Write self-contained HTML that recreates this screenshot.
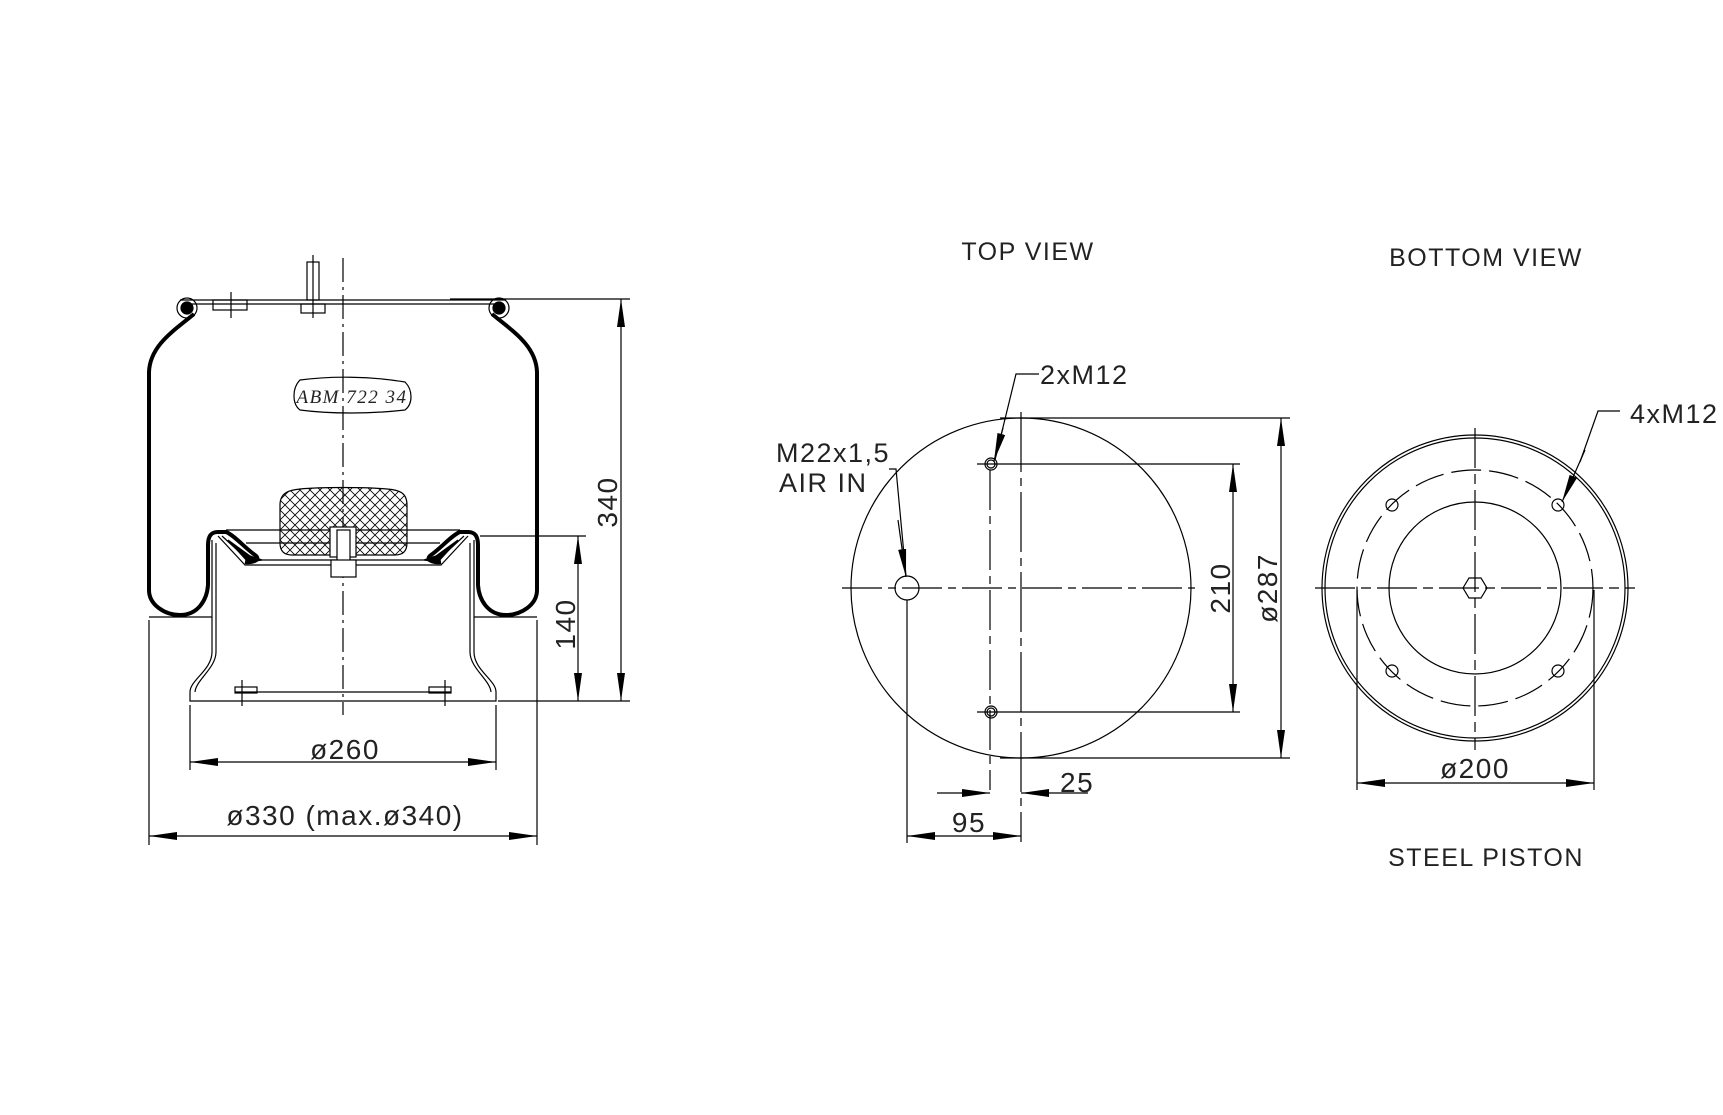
<!DOCTYPE html>
<html><head><meta charset="utf-8"><style>
html,body{margin:0;padding:0;background:#fff;}
svg{display:block;}
text{font-family:"Liberation Sans",sans-serif;fill:#222;letter-spacing:1.5px;}
</style></head><body>
<svg width="1723" height="1115" viewBox="0 0 1723 1115" xmlns="http://www.w3.org/2000/svg">
<defs>
<pattern id="xh" width="10" height="10" patternUnits="userSpaceOnUse">
<path d="M0 0L10 10M10 0L0 10" stroke="#000" stroke-width="0.8"/>
</pattern>
<marker id="ar" markerWidth="28" markerHeight="10" refX="28" refY="5" orient="auto-start-reverse" markerUnits="userSpaceOnUse">
<path d="M0 1L28 5L0 9Z" fill="#000"/>
</marker>
</defs>
<g fill="none" stroke="#000" stroke-width="1.2">
<line x1="343" y1="258" x2="343" y2="715" stroke-dasharray="24 5 3 5"/>
<path d="M180 300 L506 300 M182 304 L504 304"/>
<rect x="213" y="300" width="34" height="10"/>
<line x1="231" y1="292" x2="231" y2="318"/>
<rect x="307" y="262" width="12" height="38"/>
<rect x="301" y="304" width="24" height="9"/>
<line x1="313" y1="255" x2="313" y2="318"/>
<circle cx="187" cy="308" r="10"/>
<circle cx="187" cy="308" r="6" fill="#000"/>
<circle cx="499" cy="308" r="10"/>
<circle cx="499" cy="308" r="6" fill="#000"/>
<path stroke-width="4" d="M194 314 C175 330 150 345 149 372 L149 590 C149 605 165 615 180 615 C198 615 207 600 208 585 L208 545 C208 535 212 532 218 532 L226 532 C234 535 245 548 255 555 C262 560 252 563 245 562"/>
<path stroke-width="4" d="M492 314 C511 330 536 345 537 372 L537 590 C537 605 521 615 506 615 C488 615 479 600 478 585 L478 545 C478 535 474 532 468 532 L460 532 C452 535 441 548 431 555 C424 560 434 563 441 562"/>
<path d="M228 540 L250 556 L262 560 L248 562 Z M458 540 L436 556 L424 560 L438 562 Z" fill="#000"/>
<path d="M212 540 L212 652 C212 670 190 680 190 692 L190 701 L496 701 L496 692 C496 680 474 670 474 652 L474 540"/>
<path d="M216 543 L216 652 C216 668 196 680 195 692 M470 543 L470 652 C470 668 490 680 491 692"/>
<path d="M218 536 L245 565 L441 565 L468 536 M222 536 L248 560 L438 560 L464 536"/>
<line x1="226" y1="530" x2="460" y2="530"/>
<line x1="246" y1="543" x2="440" y2="543"/>
<line x1="149" y1="617" x2="212" y2="617"/>
<line x1="474" y1="617" x2="537" y2="617"/>
<line x1="235" y1="692" x2="451" y2="692"/>
<rect x="235" y="687" width="22" height="6"/>
<rect x="429" y="687" width="22" height="6"/>
<line x1="242" y1="680" x2="242" y2="706"/>
<line x1="445" y1="680" x2="445" y2="706"/>
<path fill="url(#xh)" d="M280 505 C280 492 290 490 300 489 C320 487 365 487 387 489 C400 490 407 493 407 505 L407 543 C407 552 402 555 395 555 L292 555 C285 555 280 552 280 543 Z"/>
<rect x="330" y="527" width="26" height="30" fill="#fff"/>
<rect x="337" y="530" width="13" height="45" fill="#fff"/>
<rect x="331" y="560" width="25" height="17" fill="#fff"/>
<path d="M300 380 C330 376 370 376 405 382 C413 390 413 404 405 410 C370 414 330 414 300 410 C292 404 292 388 300 380 Z"/>
<path d="M450 299 L630 299 M498 701 L630 701 M480 536 L586 536"/>
<line x1="621" y1="299" x2="621" y2="701" marker-start="url(#ar)" marker-end="url(#ar)"/>
<line x1="578" y1="536" x2="578" y2="701" marker-start="url(#ar)" marker-end="url(#ar)"/>
<path d="M190 705 L190 770 M496 705 L496 770 M149 620 L149 845 M537 620 L537 845"/>
<line x1="190" y1="762" x2="496" y2="762" marker-start="url(#ar)" marker-end="url(#ar)"/>
<line x1="149" y1="836" x2="537" y2="836" marker-start="url(#ar)" marker-end="url(#ar)"/>

<circle cx="1021" cy="588" r="170"/>
<line x1="842" y1="588" x2="1195" y2="588" stroke-dasharray="40 6 8 6"/>
<line x1="1021" y1="412" x2="1021" y2="842" stroke-dasharray="60 6 8 6"/>
<line x1="990" y1="470" x2="990" y2="790" stroke-dasharray="40 6 8 6"/>
<circle cx="907" cy="588" r="12"/>
<circle cx="991" cy="464" r="6"/><circle cx="991" cy="464" r="4"/>
<circle cx="991" cy="712" r="6"/><circle cx="991" cy="712" r="4"/>
<path d="M977 464 L1240 464 M977 712 L1240 712 M1000 418 L1290 418 M1000 758 L1290 758"/>
<line x1="1233" y1="464" x2="1233" y2="712" marker-start="url(#ar)" marker-end="url(#ar)"/>
<line x1="1281" y1="418" x2="1281" y2="758" marker-start="url(#ar)" marker-end="url(#ar)"/>
<line x1="907" y1="600" x2="907" y2="843"/>
<line x1="937" y1="793" x2="990" y2="793" marker-end="url(#ar)"/>
<line x1="1088" y1="793" x2="1021" y2="793" marker-end="url(#ar)"/>
<line x1="907" y1="836" x2="1021" y2="836" marker-start="url(#ar)" marker-end="url(#ar)"/>
<path d="M889 469 L896 469 L906 576"/>
<line x1="898" y1="520" x2="906" y2="577" marker-end="url(#ar)"/>
<path d="M1039 374 L1016 374 L995 460"/>
<line x1="1003" y1="428" x2="994" y2="461" marker-end="url(#ar)"/>

<circle cx="1475" cy="588" r="153"/>
<circle cx="1475" cy="588" r="150"/>
<circle cx="1475" cy="588" r="118" stroke-dasharray="30 8"/>
<circle cx="1475" cy="588" r="86"/>
<line x1="1315" y1="588" x2="1635" y2="588" stroke-dasharray="40 6 10 6"/>
<line x1="1475" y1="428" x2="1475" y2="750" stroke-dasharray="40 6 10 6"/>
<path d="M1463 588 L1469 578 L1481 578 L1487 588 L1481 598 L1469 598 Z"/>
<circle cx="1392" cy="505" r="6"/><circle cx="1558" cy="505" r="6"/>
<circle cx="1392" cy="671" r="6"/><circle cx="1558" cy="671" r="6"/>
<path d="M1357 590 L1357 790 M1594 590 L1594 790"/>
<line x1="1357" y1="783" x2="1594" y2="783" marker-start="url(#ar)" marker-end="url(#ar)"/>
<path d="M1620 411 L1598 411 L1580 462"/>
<line x1="1585" y1="450" x2="1562" y2="502" marker-end="url(#ar)"/>
</g>

<g font-size="28">
<text x="1028" y="260" text-anchor="middle" font-size="25">TOP  VIEW</text>
<text x="1486" y="266" text-anchor="middle" font-size="25">BOTTOM  VIEW</text>
<text x="1486" y="866" text-anchor="middle" font-size="25">STEEL  PISTON</text>
<text x="1040" y="384" font-size="27">2xM12</text>
<text x="776" y="462" font-size="27">M22x1,5</text>
<text x="779" y="492" font-size="27">AIR  IN</text>
<text x="1630" y="423" font-size="27">4xM12</text>
<text x="1475" y="778" text-anchor="middle">ø200</text>
<text x="1060" y="792">25</text>
<text x="969" y="832" text-anchor="middle">95</text>
<text transform="translate(1230 588) rotate(-90)" text-anchor="middle">210</text>
<text transform="translate(1277 588) rotate(-90)" text-anchor="middle">ø287</text>
<text transform="translate(617 502) rotate(-90)" text-anchor="middle">340</text>
<text transform="translate(575 624) rotate(-90)" text-anchor="middle">140</text>
<text x="345" y="759" text-anchor="middle">ø260</text>
<text x="345" y="825" text-anchor="middle">ø330  (max.ø340)</text>
<text x="352" y="403" text-anchor="middle" font-size="19" font-style="italic" style="font-family:'Liberation Serif',serif">ABM  722  34</text>
</g>
</svg>
</body></html>
